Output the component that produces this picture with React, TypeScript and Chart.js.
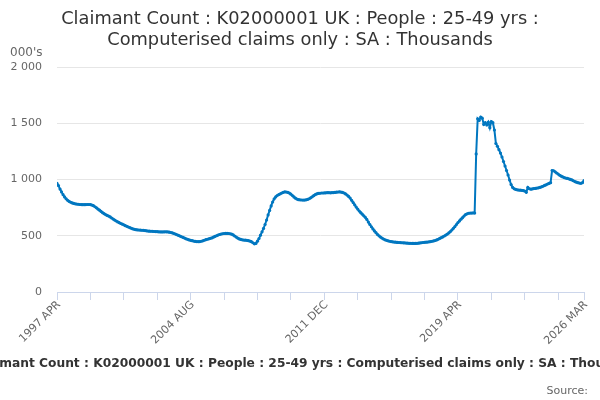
import React, { useEffect, useRef } from "react";
import { Chart, registerables } from "chart.js";

Chart.register(...registerables);

// Monthly values (thousands), 1997 APR .. 2026 MAR, in four 88/84-month blocks
const values1997to2004 = [
  965, 945, 915, 890, 865, 845, 828, 815, 805, 798,
  792, 787, 784, 782, 780, 778, 777, 776, 776, 777,
  778, 778, 777, 773, 767, 758, 748, 737, 727, 716,
  705, 696, 688, 681, 675, 667, 658, 648, 639, 631,
  623, 616, 609, 603, 597, 590, 584, 578, 572, 566,
  561, 557, 554, 552, 551, 550, 549, 548, 546, 544,
  542, 541, 540, 539, 538, 537, 536, 535, 534, 534,
  534, 535, 535, 534, 532, 529, 525, 520, 515, 509,
  503, 497, 491, 485, 479, 473, 468, 463,
];
const values2004to2011 = [
  459, 456, 453, 450, 448, 447, 448, 451, 455, 460,
  465, 469, 473, 477, 481, 487, 494, 500, 506, 511,
  515, 518, 520, 521, 521, 520, 518, 514, 507, 498,
  488, 479, 472, 467, 464, 462, 461, 459, 456, 453,
  447, 438, 428, 432, 452, 475, 505, 535, 565, 600,
  640, 685, 725, 765, 800, 828, 845, 858, 866, 873,
  880, 886, 890, 889, 885, 879, 870, 858, 845, 834,
  826, 821, 819, 818, 817, 817, 819, 823, 829, 837,
  846, 856, 865, 872, 876, 878, 880, 880,
];
const values2011to2019 = [
  881, 882, 883, 883, 882, 883, 884, 885, 887, 889,
  890, 888, 885, 880, 872, 862, 850, 835, 815, 795,
  775, 755, 737, 720, 705, 692, 678, 664, 645, 622,
  600, 580, 561, 543, 527, 512, 499, 488, 479, 471,
  464, 459, 455, 451, 448, 446, 444, 443, 441, 440,
  439, 438, 437, 436, 435, 434, 433, 433, 432, 432,
  432, 433, 434, 436, 438, 440, 442, 443, 444, 446,
  448, 451, 454, 458, 463, 469, 476, 483, 490, 498,
  506, 515, 525, 537, 551, 566, 582, 600,
];
const values2019to2026 = [
  617, 632, 647, 661, 675, 688, 695, 700, 702, 702,
  703, 702, 1227, 1540, 1525, 1555, 1545, 1490, 1505, 1485,
  1510, 1460, 1515, 1505, 1440, 1320, 1295, 1265, 1235, 1200,
  1160, 1120, 1080, 1040, 995, 955, 930, 918, 912, 908,
  906, 905, 904, 902, 898, 886, 930, 918, 914, 916,
  920, 921, 924, 926, 930, 935, 940, 947, 953, 960,
  965, 972, 1080, 1078, 1068, 1058, 1048, 1038, 1030, 1023,
  1017, 1013, 1010, 1006, 1001, 996, 989, 982, 976, 972,
  968, 966, 972, 990,
];

const tickLabels = ["1997 APR", "2004 AUG", "2011 DEC", "2019 APR", "2026 MAR"];
const tickIndex = [0, 88, 176, 264, 347];
const minorTickStep = 22;

const yTicks = [0, 500, 1000, 1500, 2000];

const titleLines = [
  "Claimant Count : K02000001 UK : People : 25-49 yrs :",
  "Computerised claims only : SA : Thousands",
];
const subtitleText =
  "Claimant Count : K02000001 UK : People : 25-49 yrs : Computerised claims only : SA : Thousands";
const sourceText = "Source:";
const unitText = "000's";

const FONT = '"DejaVu Sans", Verdana, sans-serif';
const LINE_COLOR = "#0077c0";

function fmt(v: number): string {
  if (v >= 1000) {
    return `${Math.floor(v / 1000)} ${String(v % 1000).padStart(3, "0")}`;
  }
  return String(v);
}

const textPlugin = {
  id: "extraTexts",
  afterDraw(chart: any) {
    const ctx = chart.ctx as CanvasRenderingContext2D;
    ctx.save();
    ctx.textBaseline = "alphabetic";
    ctx.fillStyle = "#333333";
    ctx.font = `17.8px ${FONT}`;
    ctx.textAlign = "center";
    ctx.fillText(titleLines[0], 300, 24);
    ctx.fillText(titleLines[1], 300, 45);

    ctx.font = `12px ${FONT}`;
    ctx.fillStyle = "#666666";
    ctx.textAlign = "left";
    ctx.fillText(unitText, 10, 56);

    ctx.font = `bold 12.25px ${FONT}`;
    ctx.fillStyle = "#333333";
    ctx.textAlign = "center";
    ctx.fillText(subtitleText, 309, 367);

    ctx.font = `11px ${FONT}`;
    ctx.fillStyle = "#666666";
    ctx.textAlign = "right";
    ctx.fillText(sourceText, 588, 394);

    // rotated x-axis labels, positioned through the x scale
    const xs = chart.scales.x;
    const axisY = chart.chartArea.bottom;
    ctx.font = `11px ${FONT}`;
    ctx.fillStyle = "#666666";
    ctx.textAlign = "right";
    ctx.textBaseline = "middle";
    tickIndex.forEach((idx, k) => {
      const px = xs.getPixelForValue(idx);
      ctx.save();
      ctx.translate(px + 2, axisY + 11);
      ctx.rotate(-Math.PI / 4);
      ctx.fillText(tickLabels[k], 0, 0);
      ctx.restore();
    });
    ctx.restore();
  },
};

export default function App() {
  const ref = useRef<HTMLCanvasElement | null>(null);

  useEffect(() => {
    if (!ref.current) return;
    const all = [
      ...values1997to2004,
      ...values2004to2011,
      ...values2011to2019,
      ...values2019to2026,
    ];
    const points = all.map((v, i) => ({ x: i, y: v }));
    const lastIndex = tickIndex[tickIndex.length - 1];

    const chart = new Chart(ref.current, {
      type: "line",
      data: {
        datasets: [
          {
            data: points,
            borderColor: LINE_COLOR,
            backgroundColor: LINE_COLOR,
            borderWidth: 2,
            pointRadius: 1.6,
            pointBorderWidth: 0,
            pointBackgroundColor: LINE_COLOR,
            tension: 0,
          },
        ],
      },
      options: {
        animation: false,
        responsive: true,
        maintainAspectRatio: false,
        layout: { padding: { top: 67, right: 16, left: 0, bottom: 0 } },
        plugins: {
          legend: { display: false },
          title: { display: false },
          tooltip: { enabled: false },
        },
        scales: {
          x: {
            type: "linear",
            min: 0,
            max: lastIndex,
            afterFit: (scale: any) => {
              scale.height = 108;
            },
            afterBuildTicks: (scale: any) => {
              const t: { value: number }[] = [];
              for (let v = 0; v < lastIndex; v += minorTickStep) t.push({ value: v });
              t.push({ value: lastIndex });
              scale.ticks = t;
            },
            grid: {
              drawOnChartArea: false,
              drawTicks: true,
              tickLength: 8,
              color: "#ccd6eb",
            },
            border: { display: true, color: "#ccd6eb" },
            ticks: {
              display: false,
            },
          },
          y: {
            min: yTicks[0],
            max: yTicks[yTicks.length - 1],
            afterFit: (scale: any) => {
              scale.width = 57;
            },
            afterBuildTicks: (scale: any) => {
              scale.ticks = yTicks.map((v) => ({ value: v }));
            },
            grid: { color: "#e6e6e6", drawTicks: false },
            border: { display: false },
            ticks: {
              padding: 15,
              color: "#666666",
              font: { family: FONT, size: 11 },
              callback: (value: any) => fmt(Number(value)),
            },
          },
        },
      },
      plugins: [textPlugin],
    });
    return () => chart.destroy();
  }, []);

  return (
    <div style={{ position: "absolute", left: 0, top: 0, width: 600, height: 400, background: "#fff" }}>
      <canvas ref={ref} />
    </div>
  );
}
